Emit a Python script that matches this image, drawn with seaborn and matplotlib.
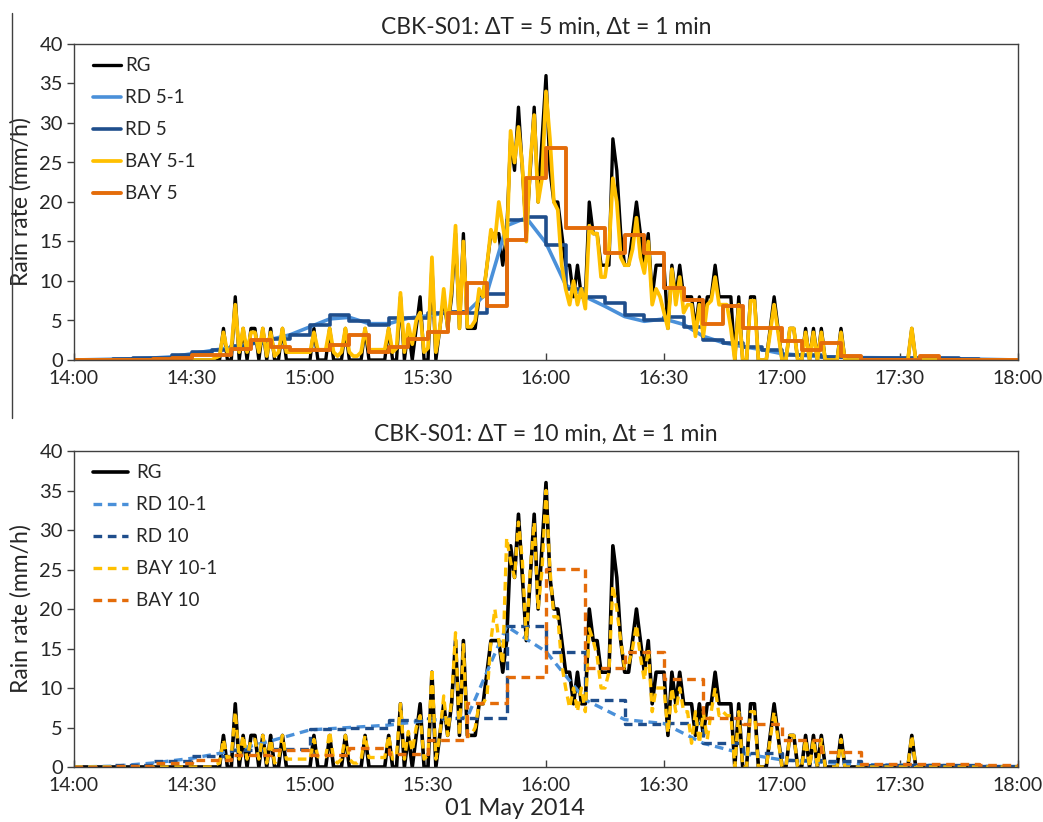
import numpy as np
import matplotlib
matplotlib.use("Agg")
import matplotlib.pyplot as plt
import seaborn as sns
from matplotlib.lines import Line2D

sns.set_theme(style="white")
plt.rcParams["font.family"] = ["Lato", "DejaVu Sans"]

# ---------------- data (minutes after 14:00) ----------------
TICK_LABELS = ["14:00", "14:30", "15:00", "15:30", "16:00", "16:30", "17:00", "17:30", "18:00"]

# rain gauge, 1-min values, t = 0..240
RG = [
    0, 0, 0, 0, 0, 0, 0, 0, 0, 0,
    0, 0, 0, 0, 0, 0, 0, 0, 0, 0,
    0, 0, 0, 0, 0, 0, 0, 0, 0, 0,
    0, 0, 0, 0, 0, 0, 0, 0, 4, 0,
    0, 8, 0, 4, 0, 4, 4, 0, 4, 0,
    4, 0, 0, 4, 0, 0, 0, 0, 0, 0,
    0, 4, 0, 0, 0, 4, 0, 0, 0, 4,
    0, 0, 0, 0, 4, 0, 0, 0, 0, 0,
    4, 0, 0, 8, 0, 4, 0, 4, 8, 0,
    0, 12, 0, 4, 8, 4, 8, 16, 4, 16,
    4, 4, 4, 8, 8, 12, 16, 16, 16, 12,
    16, 28, 24, 32, 24, 16, 24, 32, 20, 28,
    36, 24, 20, 20, 16, 12, 12, 8, 12, 8,
    8, 20, 16, 16, 12, 12, 12, 28, 24, 16,
    12, 12, 16, 20, 16, 12, 16, 8, 12, 12,
    12, 4, 12, 8, 12, 8, 8, 8, 4, 8,
    4, 8, 8, 12, 8, 8, 8, 8, 0, 8,
    0, 0, 8, 8, 0, 0, 0, 4, 8, 4,
    0, 0, 4, 4, 0, 0, 4, 0, 4, 0,
    4, 0, 0, 0, 0, 4, 0, 0, 0, 0,
    0, 0, 0, 0, 0, 0, 0, 0, 0, 0,
    0, 0, 0, 4, 0, 0, 0, 0, 0, 0,
    0, 0, 0, 0, 0, 0, 0, 0, 0, 0,
    0, 0, 0, 0, 0, 0, 0, 0, 0, 0,
    0,
]

# Bayesian estimate, 5-min window at 1-min step
BAY_5_1 = [
    0, 0, 0, 0, 0, 0, 0, 0, 0, 0,
    0, 0, 0, 0, 0, 0, 0, 0, 0, 0,
    0, 0, 0, 0, 0, 0, 0, 0, 0, 0,
    0, 0, 0, 0, 0, 0, 0.3, 0.5, 3.5, 1,
    1.5, 7, 1, 4, 1, 3.5, 3.5, 1, 4, 0.5,
    3.5, 0.5, 1, 4, 1, 1, 1, 1, 1, 1,
    1, 3.5, 1.3, 1.3, 1.3, 4, 1, 0.5, 1, 4,
    1, 0.5, 0.5, 1, 4, 1.3, 1.3, 1.3, 1.3, 1.3,
    4, 1, 1.5, 8.5, 1, 4.5, 2, 5, 6, 1,
    1.5, 13, 1, 4, 9, 4, 9, 17, 4, 15,
    4.2, 4.2, 5, 9, 8, 12, 16.5, 15, 20, 17,
    14, 29, 25, 29.5, 24.5, 15, 25, 31, 20, 23,
    34, 28, 20, 19, 12, 9, 7, 10, 7, 9,
    6.5, 17, 16, 16, 10.5, 10.5, 14, 23, 20, 13,
    12, 12, 14, 18, 13, 11, 15, 7, 9, 8,
    6, 4, 11.5, 7, 10.5, 6, 7, 7, 3, 7,
    3, 7, 7.5, 10.5, 7, 7, 7, 4, 0, 7,
    0, 0, 7.5, 7.5, 0, 0, 0, 3.5, 7, 3.5,
    0, 0, 4, 4, 0, 0, 3.5, 0, 3.5, 0,
    3.5, 0, 0, 0, 0, 3.5, 0, 0, 0, 0,
    0, 0, 0, 0, 0, 0, 0, 0, 0, 0,
    0, 0, 0, 4, 0, 0, 0, 0, 0, 0,
    0, 0, 0, 0, 0, 0, 0, 0, 0, 0,
    0, 0, 0, 0, 0, 0, 0, 0, 0, 0,
    0,
]

# Bayesian estimate, 10-min window at 1-min step
BAY_10_1 = [
    0, 0, 0, 0, 0, 0, 0, 0, 0, 0,
    0, 0, 0, 0, 0, 0, 0, 0, 0, 0,
    0, 0, 0, 0, 0, 0, 0, 0, 0, 0,
    0, 0, 0, 0, 0, 0, 0.3, 0.5, 3.5, 1,
    1.5, 7, 1, 4, 1, 3.5, 3.5, 1, 4, 0.5,
    3.5, 0.5, 1, 4, 1, 1, 1, 1, 1, 1,
    1, 3.5, 1.3, 1.3, 1.3, 4.5, 1, 0.5, 1, 4,
    1, 0.5, 0.5, 1, 4, 1.2, 1.2, 1.2, 1.2, 1.2,
    4, 1, 1.5, 8, 1, 4.5, 2, 5, 6.5, 1,
    1.5, 12.5, 1, 4, 9, 4, 8.5, 17, 4, 15.5,
    4, 4, 5, 8, 8, 9, 16, 20, 16, 13,
    29, 26, 24, 31, 26, 16, 25, 31, 20, 25,
    35, 25, 19, 19, 13, 10, 7.5, 10, 7, 10,
    7, 17.5, 16, 14, 10, 10, 12, 23, 20, 16,
    12.5, 13, 15, 18, 14, 11, 15, 7, 10, 10,
    10, 4.3, 10, 7, 10, 7, 7, 3, 7, 3,
    7, 3.5, 7, 10, 6.5, 7, 6.5, 6.5, 0, 7,
    0, 0, 7, 7, 0, 0, 0, 3.5, 7, 3.5,
    0, 0, 4, 4, 0, 0, 3.5, 0, 3.5, 0,
    3.5, 0, 0, 0, 0, 3.5, 0, 0, 0, 0,
    0, 0, 0, 0, 0, 0, 0, 0, 0, 0,
    0, 0, 0, 4, 0, 0, 0, 0, 0, 0,
    0, 0, 0, 0, 0, 0, 0, 0, 0, 0,
    0, 0, 0, 0, 0, 0, 0, 0, 0, 0,
    0,
]

# radar, 5-min blocks (value per block starting at 0, 5, ..., 235)
RD_5 = [0, 0.05, 0.1, 0.2, 0.3, 0.6, 1.0, 1.3, 1.8, 2.2,
        2.6, 3.2, 4.4, 5.7, 4.9, 4.4, 5.3, 5.3, 5.9, 6.1,
        6.0, 8.4, 17.7, 18.1, 14.6, 9.0, 8.0, 7.2, 5.7, 5.0,
        5.5, 4.2, 2.5, 2.2, 1.7, 1.3, 0.6, 0.6, 0.4, 0.4,
        0.3, 0.25, 0.2, 0.2, 0.2, 0.1, 0, 0]
# radar interpolated to 1 min, read every 5 min (t = 0..240)
RD_5_1 = [0, 0.05, 0.1, 0.15, 0.25, 0.4, 0.8, 1.2, 1.6, 2.0,
          2.6, 3.2, 4.2, 5.2, 5.4, 4.6, 4.6, 5.3, 5.6, 6.0,
          6.1, 8.5, 17.0, 18.0, 14.8, 9.5, 8.0, 6.8, 5.5, 4.9,
          5.2, 4.5, 3.0, 2.2, 1.7, 1.3, 0.8, 0.6, 0.4, 0.35,
          0.3, 0.28, 0.25, 0.22, 0.2, 0.15, 0.1, 0.05, 0]
# Bayesian, 5-min blocks
BAY_5 = [0, 0, 0, 0, 0.1, 0.3, 0.6, 0.6, 1.4, 2.5,
         1.7, 1.3, 1.3, 1.9, 3.2, 1.0, 1.7, 2.7, 3.6, 5.9,
         9.7, 6.8, 15.2, 23.0, 26.8, 16.7, 16.7, 13.5, 15.8, 13.5,
         9.1, 7.6, 4.6, 6.8, 4.0, 4.0, 2.4, 1.3, 2.1, 0.5,
         0, 0, 0, 0.5, 0, 0, 0, 0]

# radar, 10-min blocks (starting at 0, 10, ..., 230)
RD_10 = [0.05, 0.2, 0.8, 1.4, 2.2, 2.3, 4.8, 4.9, 5.9, 6.2,
         6.2, 17.8, 14.6, 8.5, 5.5, 5.6, 3.0, 1.8, 0.9, 0.7,
         0.3, 0.25, 0.2, 0.1]
# radar interpolated, read every 10 min (t = 0..240)
RD_10_1 = [0, 0.1, 0.5, 1.1, 2.0, 3.3, 4.7, 5.0, 5.3, 5.9,
           6.3, 17.8, 14.6, 8.5, 6.0, 5.5, 3.0, 1.7, 0.9, 0.6,
           0.3, 0.25, 0.2, 0.1, 0]
# Bayesian, 10-min blocks
BAY_10 = [0, 0.1, 0.5, 0.9, 1.5, 2.2, 1.5, 2.4, 1.7, 3.4,
          8.1, 11.4, 25.1, 12.5, 14.6, 11.2, 6.2, 5.5, 3.4, 1.9,
          0.4, 0.4, 0.4, 0.3]

# ---------------- styling ----------------
C_RG = "#000000"
C_RD1 = "#4A90D9"
C_RD = "#1F4E8C"
C_BAY1 = "#FFC000"
C_BAY = "#E46C0A"
DASH = (0, (2.6, 1.7))

W, H = 1043, 822
fig = plt.figure(figsize=(W / 100, H / 100), dpi=100)
ax1 = fig.add_axes([74 / W, 1 - 360 / H, 944 / W, 316 / H])
ax2 = fig.add_axes([74 / W, 1 - 767 / H, 944 / W, 316 / H])

t1 = np.arange(len(RG))


def steps(ax, blocks, width, **kw):
    x = np.arange(len(blocks)) * width
    x = np.append(x, 240)
    y = np.append(blocks, blocks[-1])
    sns.lineplot(x=x, y=y, ax=ax, drawstyle="steps-post", **kw)


# top panel
sns.lineplot(x=t1, y=RG, ax=ax1, color=C_RG, lw=2.4, label="RG")
sns.lineplot(x=np.arange(len(RD_5_1)) * 5, y=RD_5_1, ax=ax1, color=C_RD1, lw=2.6, label="RD 5-1")
steps(ax1, RD_5, 5, color=C_RD, lw=2.6, label="RD 5")
sns.lineplot(x=t1, y=BAY_5_1, ax=ax1, color=C_BAY1, lw=2.7, label="BAY 5-1")
steps(ax1, BAY_5, 5, color=C_BAY, lw=2.8, label="BAY 5")

# bottom panel
sns.lineplot(x=t1, y=RG, ax=ax2, color=C_RG, lw=2.6, label="RG")
sns.lineplot(x=np.arange(len(RD_10_1)) * 10, y=RD_10_1, ax=ax2, color=C_RD1, lw=2.4,
             linestyle=DASH, label="RD 10-1")
steps(ax2, RD_10, 10, color=C_RD, lw=2.4, linestyle=DASH, label="RD 10")
sns.lineplot(x=t1, y=BAY_10_1, ax=ax2, color=C_BAY1, lw=2.4, linestyle=DASH, label="BAY 10-1")
steps(ax2, BAY_10, 10, color=C_BAY, lw=2.4, linestyle=DASH, label="BAY 10")

titles = ["CBK-S01: ΔT = 5 min, Δt = 1 min", "CBK-S01: ΔT = 10 min, Δt = 1 min"]
for i, (ax, title) in enumerate(zip([ax1, ax2], titles)):
    ax.set_xlim(0, 240)
    ax.set_ylim(0, 40)
    ax.set_xticks(np.arange(0, 241, 30))
    ax.set_xticklabels(TICK_LABELS)
    ax.set_yticks(np.arange(0, 41, 5))
    ax.tick_params(axis="y", direction="out", length=5, width=1, labelsize=14.5, pad=3,
                   left=True, color="#404040")
    ax.tick_params(axis="x", direction="in", length=5, width=1, labelsize=14, pad=7,
                   bottom=True, color="#404040")
    for s in ax.spines.values():
        s.set_color("#404040")
        s.set_linewidth(1.0)
    ax.set_xlabel("")
    ax.set_ylabel("Rain rate (mm/h)", fontsize=16.5)
    ax.yaxis.set_label_coords(-0.045, 0.5)
    ax.set_title(title, fontsize=16.5, pad=7)
    ax.grid(False)
    ax.legend(loc="upper left", bbox_to_anchor=(0.02, 0.958), frameon=False,
              fontsize=13.5, handlelength=1.5 if i == 0 else 1.85,
              handletextpad=0.2 if i == 0 else 0.45,
              labelspacing=0.8, borderpad=0, borderaxespad=0)

fig.text(515 / W, 1 - 815 / H, "01 May 2014", ha="center", va="baseline", fontsize=17)
fig.add_artist(Line2D([12 / W, 12 / W], [1 - 13 / H, 1 - 418 / H], color="#404040", lw=1.0))

fig.savefig("out.png", dpi=100)
